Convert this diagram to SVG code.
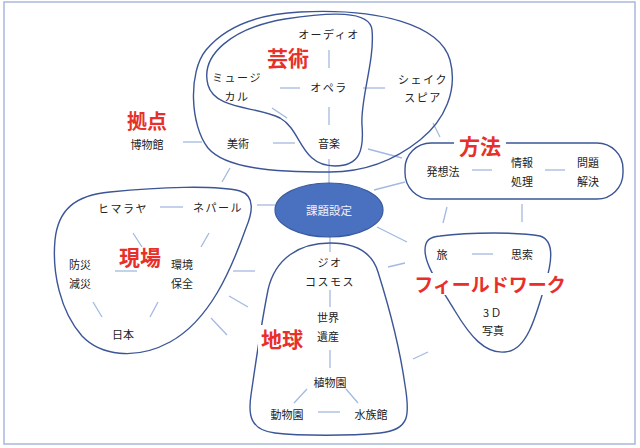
<svg xmlns="http://www.w3.org/2000/svg" width="640" height="448" viewBox="0 0 640 448">
<style>
.bg{fill:#ffffff}
.frame{fill:none;stroke:#a9b9da;stroke-width:1.5}
.blob{fill:none;stroke:#3b5596;stroke-width:1.4}
.ln{stroke:#a3b9e0;stroke-width:1.3;fill:none}
.t{font-family:"Noto Sans CJK JP","Noto Sans CJK SC",sans-serif;font-size:11px;fill:#222;text-anchor:middle;dominant-baseline:central}
.k{letter-spacing:1.5px}
.r{font-family:"Noto Sans CJK JP","Noto Sans CJK SC",sans-serif;font-size:21px;font-weight:bold;fill:#e8302a;text-anchor:middle;dominant-baseline:central}
.wb{fill:#ffffff}
</style>
<rect class="bg" x="0" y="0" width="640" height="448"/>
<rect class="frame" x="4" y="2" width="631" height="442"/>

<g id="connectors">
  <line class="ln" x1="329" y1="50" x2="329" y2="68"/>
  <line class="ln" x1="280" y1="88" x2="300" y2="88"/>
  <line class="ln" x1="363" y1="88" x2="385" y2="88"/>
  <line class="ln" x1="329" y1="107" x2="329" y2="125"/>
  <line class="ln" x1="272" y1="108" x2="287" y2="118"/>
  <line class="ln" x1="273" y1="143" x2="295" y2="143"/>
  <line class="ln" x1="183" y1="142" x2="202" y2="142"/>
  <line class="ln" x1="433" y1="123" x2="440" y2="137"/>
  <line class="ln" x1="368" y1="149" x2="402" y2="158"/>
  <line class="ln" x1="329" y1="159" x2="329" y2="183"/>
  <line class="ln" x1="230" y1="168" x2="222" y2="182"/>
  <line class="ln" x1="374" y1="190" x2="405" y2="182"/>
  <line class="ln" x1="472" y1="170" x2="492" y2="170"/>
  <line class="ln" x1="545" y1="170" x2="565" y2="170"/>
  <line class="ln" x1="522" y1="204" x2="522" y2="222"/>
  <line class="ln" x1="447" y1="207" x2="443" y2="223"/>
  <line class="ln" x1="472" y1="254" x2="493" y2="254"/>
  <line class="ln" x1="377" y1="227" x2="407" y2="242"/>
  <line class="ln" x1="388" y1="267" x2="405" y2="263"/>
  <line class="ln" x1="413" y1="359" x2="428" y2="352"/>
  <line class="ln" x1="160" y1="207" x2="183" y2="207"/>
  <line class="ln" x1="257" y1="205" x2="275" y2="205"/>
  <line class="ln" x1="209" y1="233" x2="201" y2="247"/>
  <line class="ln" x1="133" y1="233" x2="142" y2="247"/>
  <line class="ln" x1="115" y1="271" x2="137" y2="271"/>
  <line class="ln" x1="93" y1="302" x2="102" y2="317"/>
  <line class="ln" x1="158" y1="302" x2="150" y2="317"/>
  <line class="ln" x1="233" y1="271" x2="255" y2="271"/>
  <line class="ln" x1="229" y1="296" x2="248" y2="307"/>
  <line class="ln" x1="211" y1="318" x2="227" y2="335"/>
  <line class="ln" x1="330" y1="237" x2="330" y2="252"/>
  <line class="ln" x1="330" y1="290" x2="330" y2="307"/>
  <line class="ln" x1="330" y1="350" x2="330" y2="368"/>
  <line class="ln" x1="307" y1="389" x2="294" y2="403"/>
  <line class="ln" x1="346" y1="389" x2="358" y2="403"/>
  <line class="ln" x1="318" y1="412" x2="340" y2="412"/>
</g>

<g id="cluster-geijutsu-outer">
  <path class="blob" d="M 300,12 C 380,8 440,25 450,60 C 458,90 445,120 420,140 C 400,156 370,172 330,172 C 270,172 225,168 208,148 C 190,125 188,72 206,50 C 226,26 260,14 300,12 Z"/>
</g>
<g id="cluster-geijutsu-inner">
  <path class="blob" d="M 285,19 C 330,12 370,10 372,30 C 375,60 360,100 362,125 C 364,150 360,166 335,166 C 300,166 302,130 280,118 C 256,106 215,110 208,85 C 200,55 232,28 285,19 Z"/>
</g>
<g id="cluster-houhou">
  <rect class="blob" x="405" y="143" width="218" height="56" rx="26" ry="26"/>
</g>
<g id="cluster-field">
  <path class="blob" d="M 440,236 C 470,232 520,232 540,236 C 556,241 551,265 545,285 C 535,320 526,351 505,352 C 485,354 470,336 455,311 C 440,286 425,266 425,250 C 425,240 430,237 440,236 Z"/>
</g>
<g id="cluster-genba">
  <path class="blob" d="M 110,192 C 160,187 215,185 240,191 C 256,196 252,214 246,228 C 231,270 210,320 170,342 C 135,361 100,355 82,336 C 60,311 52,272 55,240 C 58,210 75,195 110,192 Z"/>
</g>
<g id="cluster-chikyu">
  <path class="blob" d="M 330,243 C 355,243 372,252 378,272 C 390,310 400,350 405,385 C 410,415 410,430 380,433 C 350,436 300,436 275,433 C 250,430 248,415 251,395 C 256,360 262,320 268,290 C 275,258 300,243 330,243 Z"/>
</g>

<g id="center">
  <ellipse cx="329" cy="210" rx="54" ry="27" fill="#4a70c0" stroke="#3a5a9e" stroke-width="1.2"/>
  <text class="t" x="329" y="210" style="fill:#eef1fa;font-size:11.5px">課題設定</text>
</g>

<g id="n-audio"><text class="t k" x="329" y="34">オーディオ</text></g>
<g id="l-geijutsu"><text class="r" x="288" y="57">芸術</text></g>
<g id="n-musical"><text class="t k" x="237" y="77">ミュージ</text><text class="t k" x="237" y="96">カル</text></g>
<g id="n-opera"><text class="t k" x="329" y="87">オペラ</text></g>
<g id="n-shakespeare"><text class="t k" x="423" y="79">シェイク</text><text class="t k" x="423" y="97">スピア</text></g>
<g id="n-bijutsu"><text class="t" x="238" y="143">美術</text></g>
<g id="n-ongaku"><text class="t" x="329" y="143">音楽</text></g>
<g id="l-kyoten"><text class="r" x="147" y="120" style="font-size:20px">拠点</text></g>
<g id="n-hakubutsukan"><text class="t" x="147" y="144">博物館</text></g>

<g id="l-houhou"><rect class="wb" x="454" y="133" width="52" height="22"/><text class="r" x="480" y="145">方法</text></g>
<g id="n-hassouhou"><text class="t" x="443" y="171">発想法</text></g>
<g id="n-jouhou"><text class="t" x="522" y="162">情報</text><text class="t" x="522" y="181">処理</text></g>
<g id="n-mondai"><text class="t" x="588" y="162">問題</text><text class="t" x="588" y="181">解決</text></g>

<g id="n-tabi"><text class="t" x="442" y="254">旅</text></g>
<g id="n-shisaku"><text class="t" x="522" y="254">思索</text></g>
<g id="l-field"><rect class="wb" x="421" y="273" width="138" height="22"/><text class="r" x="490" y="283" style="font-size:19px">フィールドワーク</text></g>
<g id="n-3d"><text class="t k" x="493" y="312">3Ｄ</text><text class="t" x="493" y="330">写真</text></g>

<g id="n-himalaya"><text class="t k" x="123" y="208">ヒマラヤ</text></g>
<g id="n-nepal"><text class="t k" x="218" y="207">ネパール</text></g>
<g id="l-genba"><text class="r" x="140" y="256">現場</text></g>
<g id="n-bousai"><text class="t" x="80" y="264">防災</text><text class="t" x="80" y="283">減災</text></g>
<g id="n-kankyou"><text class="t" x="182" y="264">環境</text><text class="t" x="182" y="283">保全</text></g>
<g id="n-nihon"><text class="t" x="123" y="334">日本</text></g>

<g id="n-geocosmos"><text class="t k" x="330" y="262">ジオ</text><text class="t k" x="330" y="281">コスモス</text></g>
<g id="n-sekaiisan"><text class="t" x="328" y="317">世界</text><text class="t" x="328" y="336">遺産</text></g>
<g id="l-chikyu"><rect class="wb" x="258" y="325" width="48" height="27"/><text class="r" x="282" y="338">地球</text></g>
<g id="n-shokubutsuen"><text class="t" x="330" y="382">植物園</text></g>
<g id="n-doubutsuen"><text class="t" x="287" y="414">動物園</text></g>
<g id="n-suizokukan"><text class="t" x="371" y="414">水族館</text></g>
</svg>
